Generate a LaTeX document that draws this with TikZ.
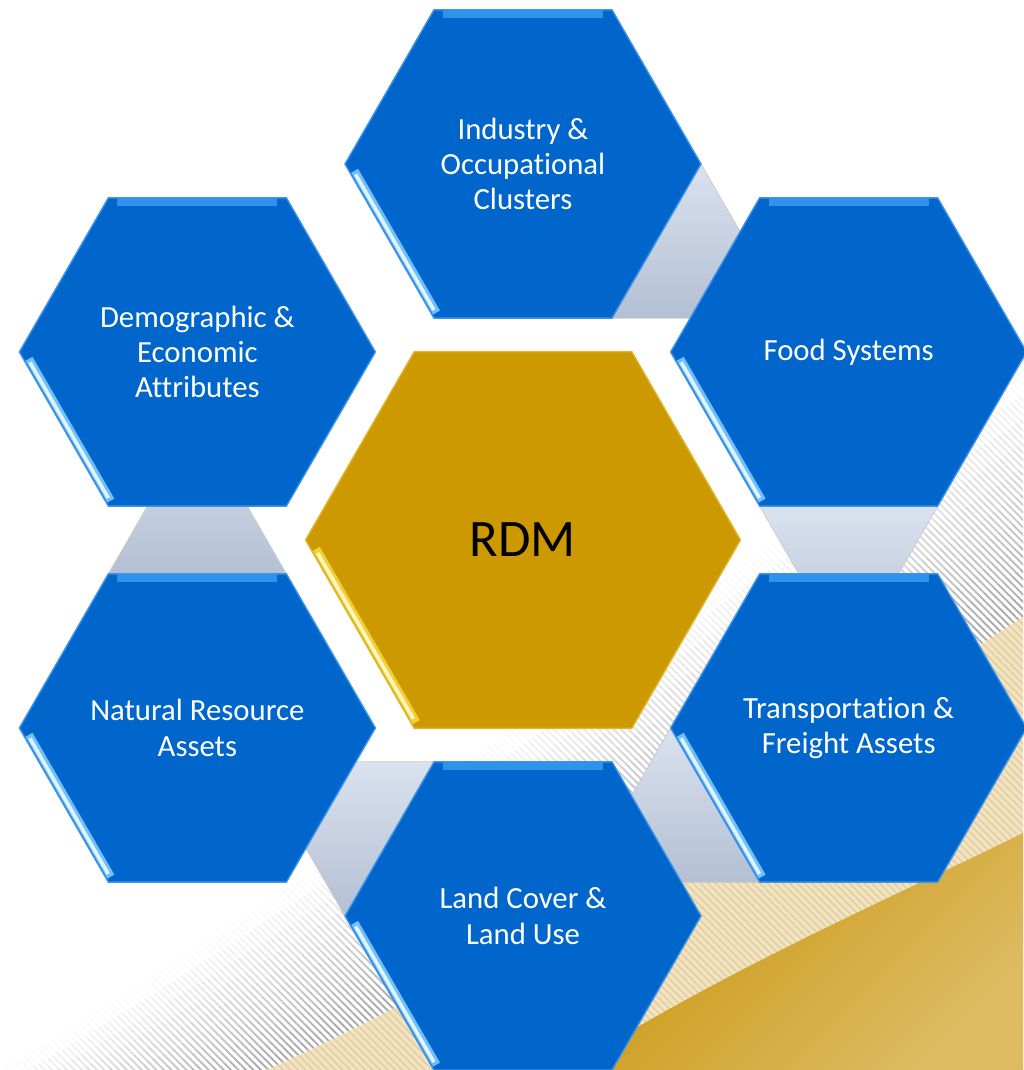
\documentclass[tikz,border=0pt]{standalone}
\usepackage{fontspec}
\setmainfont{Carlito}[Ligatures=NoCommon]
\usetikzlibrary{shapes.geometric, calc, patterns.meta}

\definecolor{hexblue}{HTML}{0066CC}
\definecolor{hexedge}{HTML}{3D93E8}
\definecolor{hextop}{HTML}{3192EC}
\definecolor{hexglow}{HTML}{6FC0FF}
\definecolor{hexshine}{HTML}{E2F4FF}
\definecolor{rdmgold}{HTML}{CC9900}
\definecolor{rdmedge}{HTML}{E0B830}
\definecolor{rdmglow}{HTML}{F2CF3A}
\definecolor{rdmshine}{HTML}{FFF6C0}
\definecolor{linktop}{HTML}{DAE2EF}
\definecolor{linkbot}{HTML}{B3BFD3}
\definecolor{sand}{HTML}{F2E3C2}
\definecolor{sandline}{HTML}{E3CE9E}
\definecolor{swooshA}{HTML}{C8960F}
\definecolor{swooshB}{HTML}{DEBB62}

\pgfdeclarelayer{back}
\pgfdeclarelayer{links}
\pgfsetlayers{back,links,main}

\begin{document}
\begin{tikzpicture}[
            every node/.style = {outer sep = 0pt}, % anchors sit on the outline
            font = \fontsize{17.5}{20}\selectfont % label text
        ]

        \tikzstyle{hex}=[
            regular polygon,
            regular polygon sides = 6,
            minimum size = 7.12cm,
            inner sep = 0pt,
            fill = hexblue,
            draw = hexedge,
            line width = 0.8pt,
            text = white,
            align = center
        ]
        \tikzstyle{core}=[hex, minimum size = 8.7cm, fill = rdmgold, draw = rdmedge,
            text = black, font = \fontsize{30}{34}\selectfont]
        \tikzstyle{link}=[top color = linktop, bottom color = linkbot, draw = gray!35, line width = 0.4pt]
        \tikzstyle{glow}=[line width = 4.5pt, hexglow]
        \tikzstyle{shine}=[line width = 2pt, hexshine]

        \useasboundingbox (-10.46,-10.6) rectangle (10.0,10.8);

        \node[core] (rdm) at (0,0) {RDM};
        \node[hex] (ind) at (90:7.52) {Industry \&\\Occupational\\Clusters};
        \node[hex] (food) at (30:7.52) {Food Systems};
        \node[hex] (trans) at (-30:7.52) {Transportation \&\\Freight Assets};
        \node[hex] (land) at (-90:7.52) {Land Cover \&\\Land Use};
        \node[hex] (nat) at (-150:7.52) {Natural Resource\\Assets};
        \node[hex] (demo) at (150:7.52) {Demographic \&\\Economic\\Attributes};

        % bevel highlights
        \foreach \n in {ind,food,trans,land,nat,demo}{
            \draw[line width = 4.5pt, hextop] ($(\n.corner 1)!0.05!(\n.corner 2)+(0,-0.09)$) -- ($(\n.corner 2)!0.05!(\n.corner 1)+(0,-0.09)$);
            \draw[glow] ($(\n.corner 3)!0.06!(\n.corner 4)+(30:0.1)$) -- ($(\n.corner 4)!0.02!(\n.corner 3)+(30:0.1)$);
            \draw[shine] ($(\n.corner 3)!0.08!(\n.corner 4)+(30:0.08)$) -- ($(\n.corner 4)!0.04!(\n.corner 3)+(30:0.08)$);
        }
        \draw[line width = 4.5pt, rdmglow] ($(rdm.corner 3)!0.06!(rdm.corner 4)+(30:0.1)$) -- ($(rdm.corner 4)!0.02!(rdm.corner 3)+(30:0.1)$);
        \draw[line width = 2pt, rdmshine] ($(rdm.corner 3)!0.08!(rdm.corner 4)+(30:0.08)$) -- ($(rdm.corner 4)!0.04!(rdm.corner 3)+(30:0.08)$);

        % links between neighbours
        \begin{pgfonlayer}{links}
            \foreach \n/\p/\q in {ind/6/5, food/5/4, trans/4/3, land/3/2, nat/2/1}
                \filldraw[link] (\n.corner \p) -- (\n.corner \q) -- ($(\n.corner \p)!1!60:(\n.corner \q)$) -- cycle;
        \end{pgfonlayer}

        % slide background
        \coordinate (p0) at (-5.59,-10.8);
        \coordinate (p1) at (-0.12,-8.44);
        \coordinate (p2) at (5.0,-4.78);
        \coordinate (p3) at (10.2,-1.41);
        \coordinate (q0) at (-10.75,-10.8);
        \coordinate (q1) at (-3.66,-6.6);
        \coordinate (q2) at (3.14,-1.2);
        \coordinate (q3) at (10.2,3.54);
        \begin{pgfonlayer}{back}
            \begin{scope}
                \clip (-10.46,-10.6) rectangle (10.0,10.8);
                \foreach \k in {0,...,9}{
                    \pgfmathsetmacro\ta{\k/10}
                    \pgfmathsetmacro\tb{(\k+1)/10}
                    \pgfmathsetmacro\op{1-(\k+0.5)/10}
                    \fill[pattern = {Lines[angle=-45, distance=3pt, line width=1.1pt]}, pattern color = gray!70, opacity = \op]
                        ($(p0)!\ta!(q0)$) .. controls ($(p1)!\ta!(q1)$) and ($(p2)!\ta!(q2)$) .. ($(p3)!\ta!(q3)$)
                        -- ($(p3)!\tb!(q3)$) .. controls ($(p2)!\tb!(q2)$) and ($(p1)!\tb!(q1)$) .. ($(p0)!\tb!(q0)$) -- cycle;
                }
                \fill[sand] (p0) .. controls (p1) and (p2) .. (p3) -- (10.2,-10.8) -- cycle;
                \fill[pattern = {Lines[angle=-45, distance=3pt, line width=0.9pt]}, pattern color = sandline]
                    (p0) .. controls (p1) and (p2) .. (p3) -- (10.2,-10.8) -- cycle;
                \shade[top color = swooshA, bottom color = swooshB, shading angle = 45]
                    (0.88,-10.6) .. controls (4,-8.6) and (7.5,-7.1) .. (10,-5.86) -- (10,-10.6) -- cycle;
            \end{scope}
        \end{pgfonlayer}
    \end{tikzpicture}
\end{document}
